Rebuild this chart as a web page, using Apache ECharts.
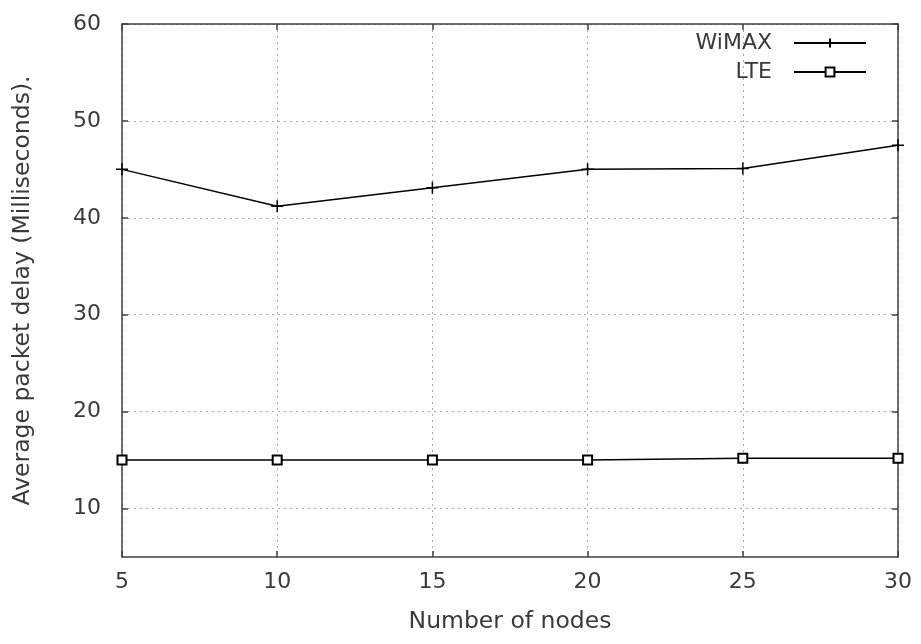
<!DOCTYPE html>
<html>
<head>
<meta charset="utf-8">
<script src="https://cdn.jsdelivr.net/npm/echarts@6/dist/echarts.min.js"></script>
<style>html,body{margin:0;padding:0;background:#fff}#c{width:921px;height:644px}</style>
</head>
<body>
<div id="c"></div>
<script>
const nodes = [5, 10, 15, 20, 25, 30];
const wimax = [45, 41.2, 43.1, 45, 45.1, 47.5];
const lte = [15, 15, 15, 15, 15.2, 15.2];
const yTicks = [10, 20, 30, 40, 50, 60];
const seriesNames = ['WiMAX', 'LTE'];

const FONT = 'DejaVu Sans';
const TXT = '#3a3a3a';
const AX = '#404040';
const grid = { type: [2, 4], color: '#a8a8a8', width: 1 };

const chart = echarts.init(document.getElementById('c'), null, { renderer: 'canvas' });

function pairs(xs, ys) { return xs.map((x, i) => [x, ys[i]]); }

const legendBase = {
  orient: 'horizontal', align: 'right', right: 54, padding: 0, itemWidth: 72, itemHeight: 11,
  textStyle: { fontFamily: FONT, fontSize: 22, color: TXT, padding: [0, 17, 0, 0] },
  selectedMode: false
};

chart.setOption({
  animation: false,
  backgroundColor: '#fff',
  grid: { left: 122, right: 23, top: 24, bottom: 87 },
  legend: [
    Object.assign({}, legendBase, { data: [seriesNames[0]], top: 32 }),
    Object.assign({}, legendBase, { data: [seriesNames[1]], top: 61 })
  ],
  xAxis: [{
    type: 'value', min: 5, max: 30, interval: 5,
    name: 'Number of nodes', nameLocation: 'middle', nameGap: 53,
    nameTextStyle: { fontFamily: FONT, fontSize: 23.5, color: TXT },
    axisLine: { show: true, lineStyle: { color: AX, width: 1.5 } },
    axisTick: { show: true, inside: true, length: 6, lineStyle: { color: AX, width: 1.5 } },
    axisLabel: { fontFamily: FONT, fontSize: 22, color: TXT, margin: 14 },
    splitLine: { show: true, lineStyle: grid }
  }, {
    type: 'value', min: 5, max: 30, interval: 5, position: 'top',
    axisLine: { show: true, lineStyle: { color: AX, width: 1.5 } },
    axisTick: { show: true, inside: true, length: 6, lineStyle: { color: AX, width: 1.5 } },
    axisLabel: { show: false },
    splitLine: { show: false }
  }],
  yAxis: [{
    type: 'value', min: 5, max: 60,
    name: 'Average packet delay (Milliseconds).', nameLocation: 'middle', nameGap: 87,
    nameTextStyle: { fontFamily: FONT, fontSize: 23.5, color: TXT },
    axisLine: { show: true, lineStyle: { color: AX, width: 1.5 } },
    axisTick: { show: true, inside: true, length: 6, customValues: yTicks, lineStyle: { color: AX, width: 1.5 } },
    axisLabel: { fontFamily: FONT, fontSize: 22, color: TXT, margin: 21, customValues: yTicks },
    splitLine: { show: true, lineStyle: grid }
  }, {
    type: 'value', min: 5, max: 60, position: 'right',
    axisLine: { show: true, lineStyle: { color: AX, width: 1.5 } },
    axisTick: { show: true, inside: true, length: 6, customValues: yTicks, lineStyle: { color: AX, width: 1.5 } },
    axisLabel: { show: false, customValues: yTicks },
    splitLine: { show: false }
  }],
  series: [{
    name: seriesNames[0], type: 'line', data: pairs(nodes, wimax),
    symbol: 'path://M0,5L10,5M5,0L5,10', symbolSize: 12,
    lineStyle: { color: '#000', width: 1.5 },
    itemStyle: { color: '#000', borderColor: '#000', borderWidth: 1.5 },
    z: 5
  }, {
    name: seriesNames[1], type: 'line', data: pairs(nodes, lte),
    symbol: 'emptyRect', symbolSize: 9,
    lineStyle: { color: '#000', width: 1.5 },
    itemStyle: { color: '#000', borderColor: '#000', borderWidth: 1.5 },
    z: 5
  }]
});
</script>
</body>
</html>
